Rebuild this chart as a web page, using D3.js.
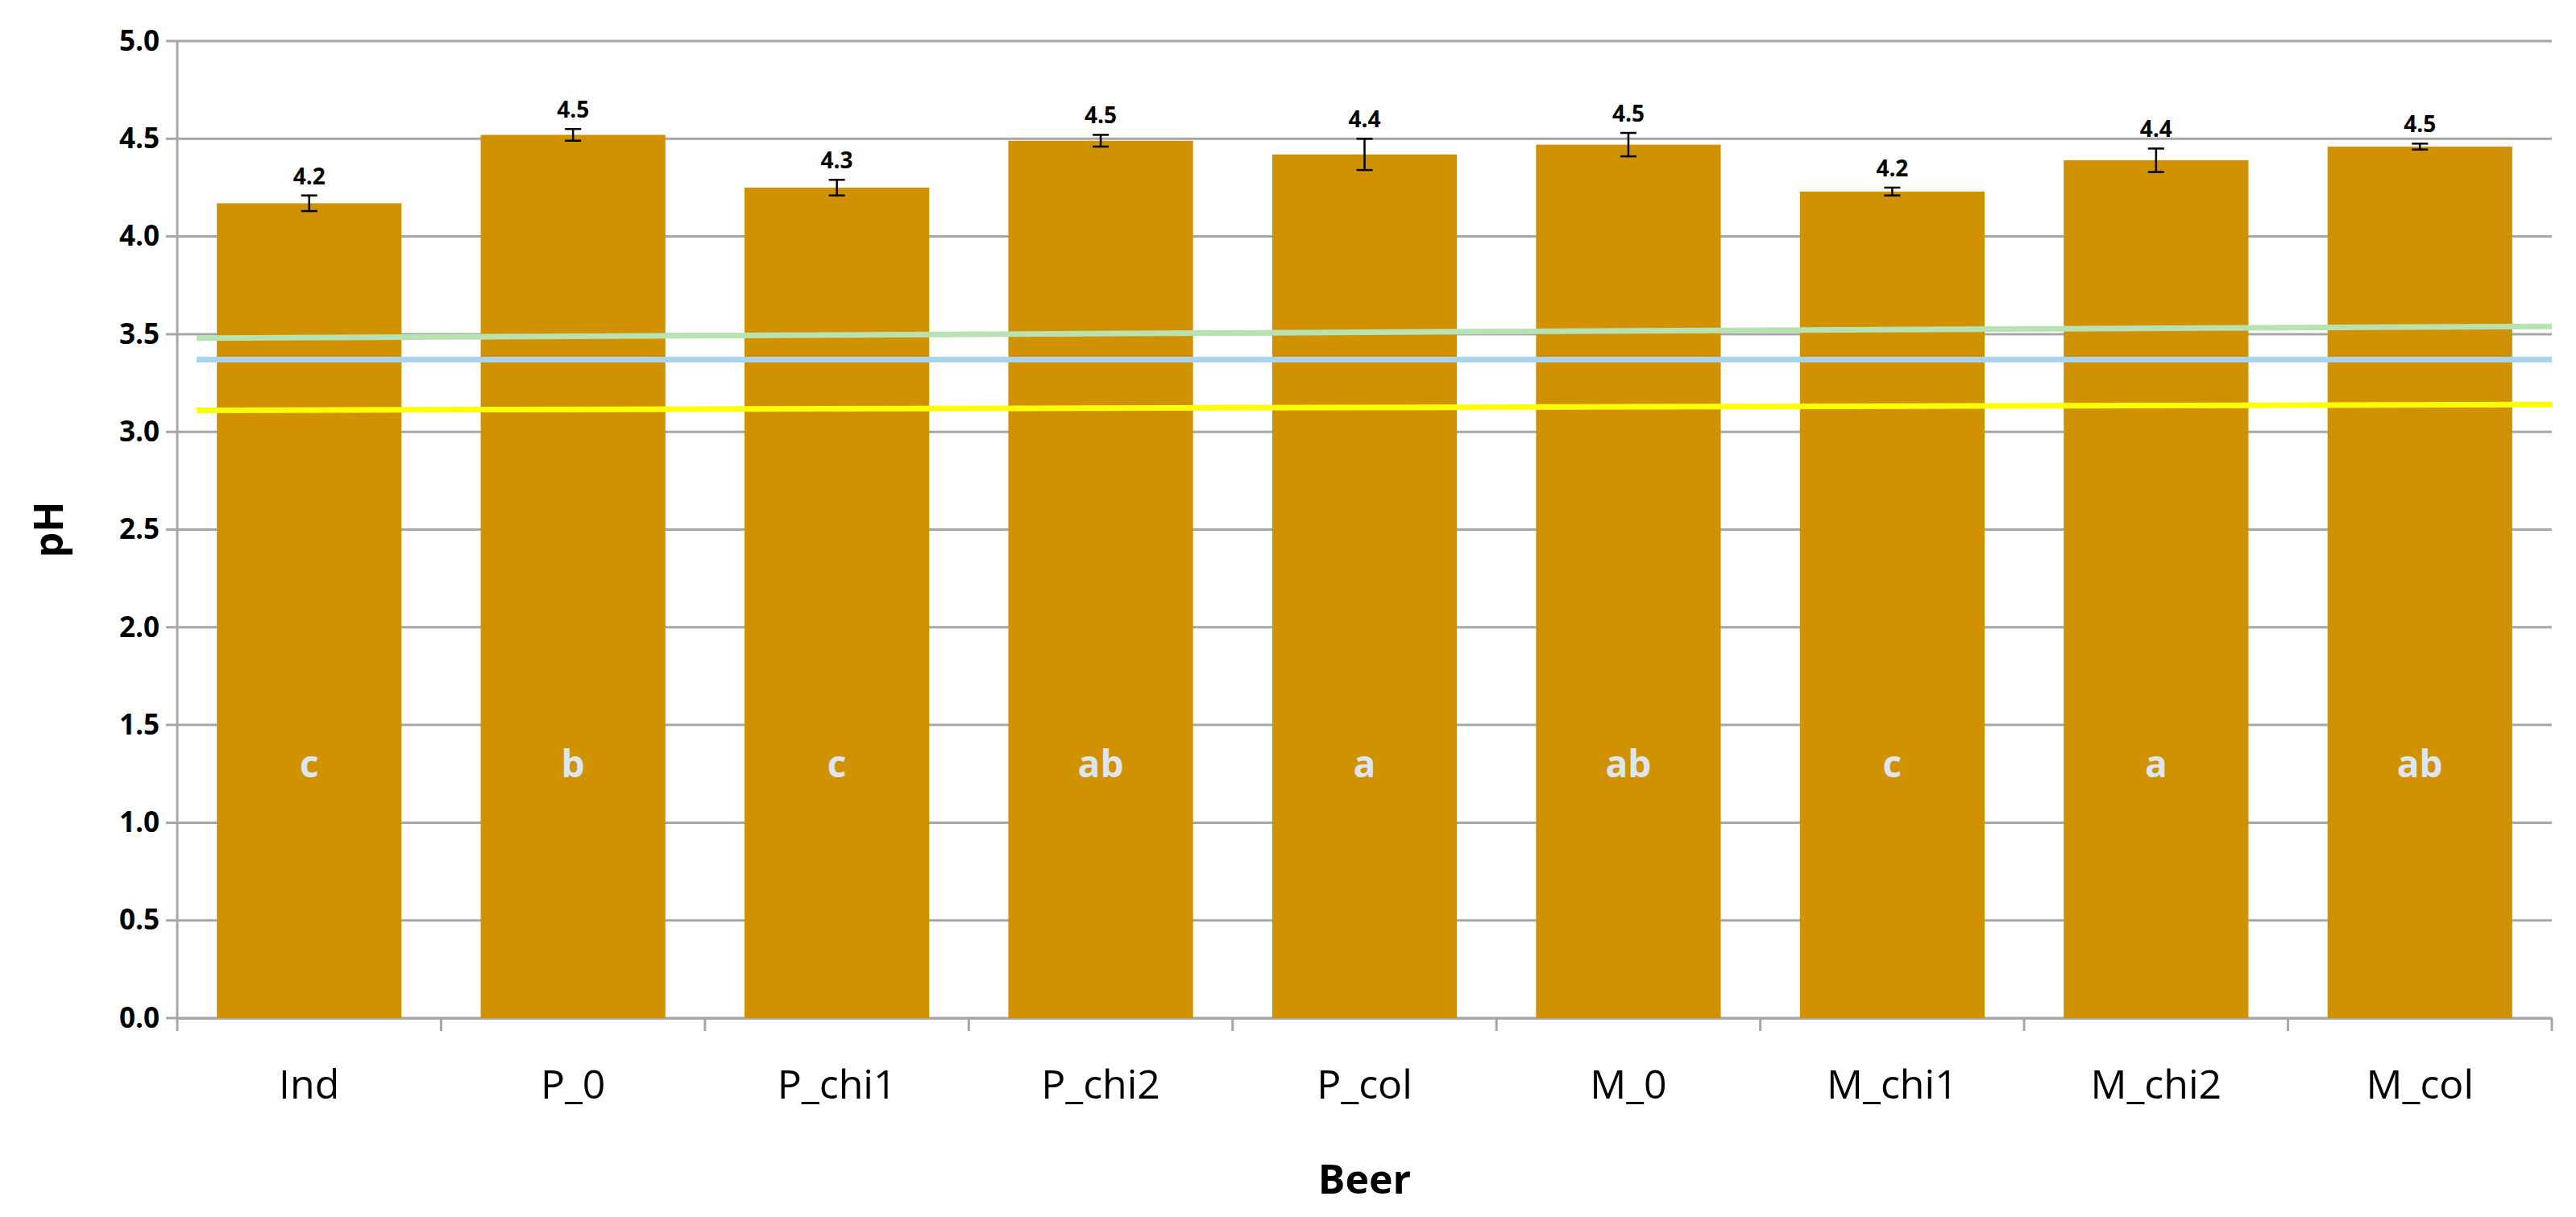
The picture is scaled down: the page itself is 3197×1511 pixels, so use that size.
<!DOCTYPE html><html><head><meta charset="utf-8"><script src="https://cdn.jsdelivr.net/npm/d3@7"></script>
<style>body{margin:0;background:#fff}text{font-family:"Open Sans",sans-serif}</style></head><body><svg id="c" width="3197" height="1511"></svg><script>
const categories=["Ind","P_0","P_chi1","P_chi2","P_col","M_0","M_chi1","M_chi2","M_col"];
const phValues=[4.17,4.52,4.25,4.49,4.42,4.47,4.23,4.39,4.46];
const phErrors=[0.04,0.03,0.04,0.03,0.08,0.06,0.02,0.06,0.015];
const valueLabels=["4.2","4.5","4.3","4.5","4.4","4.5","4.2","4.4","4.5"];
const letters=["c","b","c","ab","a","ab","c","a","ab"];
const yTicks=[0,0.5,1,1.5,2,2.5,3,3.5,4,4.5,5];
const refLines=[{name:"green",from:3.48,to:3.54,color:"#b9e2b3"},{name:"blue",from:3.37,to:3.37,color:"#a9d4ee"},{name:"yellow",from:3.11,to:3.14,color:"#ffff00"}];
const svg=d3.select("#c");
const L=220,R=3167,T=51,B=1264;
const x=d3.scaleBand().domain(categories).range([L,R]).paddingInner(0.3).paddingOuter(0.15);
const xb=d3.scaleBand().domain(categories).range([L,R]);
const y=d3.scaleLinear().domain([0,5]).range([B,T]);
const g=svg.append("g");
yTicks.forEach(t=>{g.append("line").attr("x1",L-14).attr("x2",R).attr("y1",y(t)).attr("y2",y(t)).attr("stroke","#a6a6a6").attr("stroke-width",3);});
g.append("line").attr("x1",L).attr("x2",L).attr("y1",T).attr("y2",B).attr("stroke","#a6a6a6").attr("stroke-width",3);
const ya=svg.append("g").attr("transform",`translate(${L},0)`).call(d3.axisLeft(y).tickValues(yTicks).tickFormat(d3.format(".1f")).tickSize(14));
ya.select(".domain").remove();ya.selectAll("line").remove();
ya.selectAll("text").attr("font-size",35).attr("font-weight","bold").attr("fill","#000").attr("x",-22);
const xa=svg.append("g").attr("transform",`translate(0,${B})`).call(d3.axisBottom(xb).tickSize(0));
xa.select(".domain").attr("stroke","#a6a6a6").attr("stroke-width",3);
xa.selectAll("text").attr("font-size",50).attr("fill","#000").attr("dy",0).attr("y",100);
categories.concat(["_end"]).forEach((c,i)=>{const xx=L+i*xb.step();svg.append("line").attr("x1",xx).attr("x2",xx).attr("y1",B).attr("y2",B+16).attr("stroke","#a6a6a6").attr("stroke-width",3);});
svg.selectAll(".bar").data(categories).enter().append("rect").attr("x",d=>x(d)).attr("width",x.bandwidth()).attr("y",(d,i)=>y(phValues[i])).attr("height",(d,i)=>B-y(phValues[i])).attr("fill","#d09200");
const lx=L+24;
refLines.forEach(r=>{svg.append("line").attr("x1",lx).attr("x2",R).attr("y1",y(r.from)).attr("y2",y(r.to)).attr("stroke",r.color).attr("stroke-width",7);});
categories.forEach((c,i)=>{const cx=x(c)+x.bandwidth()/2;const v=phValues[i],e=phErrors[i];
 svg.append("line").attr("x1",cx).attr("x2",cx).attr("y1",y(v+e)).attr("y2",y(v-e)).attr("stroke","#000").attr("stroke-width",2.5);
 [v+e,v-e].forEach(w=>svg.append("line").attr("x1",cx-10).attr("x2",cx+10).attr("y1",y(w)).attr("y2",y(w)).attr("stroke","#000").attr("stroke-width",2.5));
 svg.append("text").attr("x",cx).attr("y",y(v+e)-14).attr("text-anchor","middle").attr("font-size",28).attr("font-weight","bold").text(valueLabels[i]);
 svg.append("text").attr("x",cx).attr("y",y(1.3)+16).attr("text-anchor","middle").attr("font-size",46).attr("font-weight","bold").attr("fill","#dce6f2").text(letters[i]);
});
svg.append("text").attr("x",(L+R)/2).attr("y",1482).attr("text-anchor","middle").attr("font-size",50).attr("font-weight","bold").text("Beer");
svg.append("text").attr("transform",`translate(78,${(T+B)/2}) rotate(-90)`).attr("text-anchor","middle").attr("font-size",50).attr("font-weight","bold").text("pH");
</script></body></html>
